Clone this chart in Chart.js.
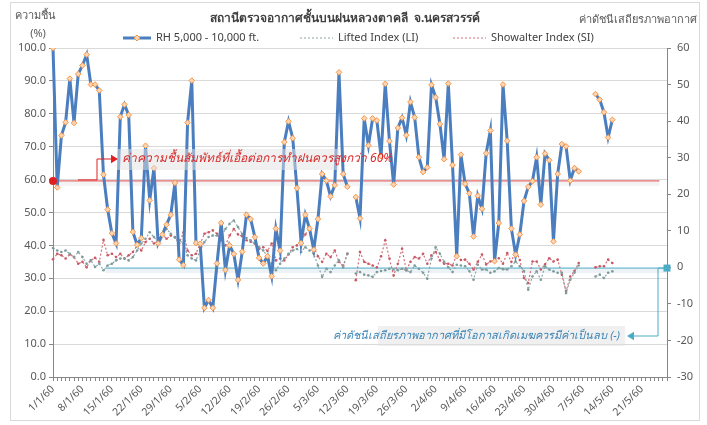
<!DOCTYPE html>
<html>
<head>
<meta charset="utf-8">
<script src="https://cdn.jsdelivr.net/npm/chart.js@4.4.1/dist/chart.umd.min.js"></script>
<style>
  body { margin: 0; background: #fff; }
  #wrap { width: 707px; height: 425px; position: relative; }
</style>
</head>
<body>
<div id="wrap"><canvas id="myChart"></canvas></div>
<script>
// daily categories 1/1/60 .. 27/5/60
const monthDays = [31, 28, 31, 30, 31];
const categories = [];
for (let m = 0; m < monthDays.length; m++) {
  for (let d = 1; d <= monthDays[m] && categories.length < 147; d++) {
    categories.push(d + '/' + (m + 1) + '/60');
  }
}

const tickLabels = ['1/1/60', '8/1/60', '15/1/60', '22/1/60', '29/1/60', '5/2/60', '12/2/60',
  '19/2/60', '26/2/60', '5/3/60', '12/3/60', '19/3/60', '26/3/60', '2/4/60', '9/4/60',
  '16/4/60', '23/4/60', '30/4/60', '7/5/60', '14/5/60', '21/5/60'];

// RH 5,000 - 10,000 ft. (%)
const rh = [100, 57.6, 73.4, 77.4, 90.7, 77.2, 92.1, 94.7, 98.0, 88.9,
  88.9, 87.1, 61.5, 50.9, 43.7, 40.6, 79.1, 82.8, 79.6, 44.1,
  40.2, 42.2, 70.3, 53.7, 63.5, 40.6, 43.3, 46.3, 49.3, 59.0,
  35.7, 34.0, 77.3, 90.1, 40.7, 40.5, 21.0, 23.4, 21.0, 34.5,
  46.8, 32.5, 40.0, 37.4, 29.5, 38.1, 49.3, 48.0, 42.5, 36.2,
  34.5, 36.7, 30.6, 45.1, 38.4, 71.4, 77.7, 72.6, 57.4, 40.7,
  49.3, 45.1, 38.7, 48.0, 61.7, 59.7, 54.9, 58.3, 92.6, 61.7,
  57.8, null, 54.7, 48.2, 78.6, 70.4, 78.6, 78.0, 67.1, 89.1,
  71.7, 58.5, 75.7, 78.8, 73.5, 83.6, 78.9, 66.8, 62.3, 63.7,
  88.8, 85.0, 76.9, 66.2, 89.2, 64.4, 36.7, 67.6, 58.7, 55.8,
  42.7, 55.1, 51.1, 68.0, 74.9, 35.2, 46.8, 88.9, 71.8, 45.1,
  37.2, 43.3, 53.5, 57.8, 59.5, 66.8, 52.4, 67.9, 65.9, 41.2,
  61.7, 70.8, 70.1, 59.7, 63.5, 62.5, null, null, null, 86.0,
  84.3, 80.5, 72.8, 78.2];

// Lifted Index (LI)
const li = [5.3, 4.6, 4.2, 4.6, 3.7, 2.8, 4.2, 2.8, 1.0, 1.9,
  0.1, 1.0, -0.8, 0.5, 1.0, 1.9, 2.4, 2.4, 1.9, 2.8,
  4.6, 6.5, 7.8, 9.6, 8.3, 6.9, 9.2, 10.5, 9.2, 8.1,
  7.4, 6.5, 3.3, 2.4, 1.9, 4.6, 6.9, 8.3, 8.7, 8.7,
  8.3, 10.5, 11.9, 12.8, 11.0, 9.1, 8.0, 7.4, 6.5, 5.5,
  4.6, 3.0, 1.0, -0.8, 1.0, 2.4, 3.7, 4.6, 5.0, 4.2,
  5.5, 4.6, 3.7, 0.5, -2.6, -0.4, -1.3, 0.5, 1.9, 0.0,
  3.7, null, -1.7, -1.3, -2.0, -2.2, -2.6, -1.3, -1.0, -0.8,
  -0.4, -0.6, -0.8, -0.4, -0.8, -1.3, 0.5, -0.4, -1.5, -3.1,
  2.4, 5.5, 3.7, 1.5, 0.0, -1.3, 0.7, 0.5, 0.3, -1.0,
  -3.4, 0.7, -0.6, -0.6, -1.5, -1.1, -0.2, -0.5, -0.6, 0.3,
  1.6, 0.3, -1.0, -6.1, -2.5, -1.1, -3.4, 0.3, -0.6, -1.1,
  -1.5, -1.5, -7.0, -3.4, -1.5, 0.5, null, null, null, -2.5,
  -2.0, -2.9, -1.5, -1.1];

// Showalter Index (SI)
const si = [2.2, 3.7, 3.3, 2.4, 3.5, 2.8, 1.0, 1.5, 0.0, 1.9,
  2.6, 1.5, 7.5, 3.3, 3.7, 2.8, 3.7, 2.4, 3.3, 4.2,
  6.0, 4.6, 6.9, 7.8, 6.5, 7.4, 9.2, 7.8, 8.7, 8.3,
  6.5, 9.5, 4.6, 3.3, 3.7, 6.5, 9.2, 9.6, 10.1, 9.2,
  7.4, 6.0, 8.7, 10.5, 9.0, 8.5, 7.4, 7.0, 6.5, 5.0,
  5.5, 4.5, 6.5, 1.9, 2.4, 1.9, 3.5, 5.5, 6.0, 7.4,
  9.0, 11.0, 5.5, 3.0, 1.5, 3.7, 2.8, 4.6, 1.5, 0.5,
  3.7, null, -3.5, 4.2, 1.5, 1.0, 0.5, 0.0, 3.0, 7.4,
  2.4, -2.2, 1.0, 5.1, -0.8, 1.5, 2.8, 2.4, 3.7, 1.0,
  3.3, 4.2, 1.9, 1.0, 1.0, 0.5, 3.5, 2.0, 2.1, 1.0,
  -0.6, 1.5, 3.5, 0.8, 1.6, 2.0, 2.5, 1.0, 3.9, 1.5,
  4.8, 2.0, -2.9, -4.3, 1.6, 1.6, -0.6, 0.8, 2.5, 1.6,
  2.1, -2.0, -6.5, -2.5, -1.0, 1.2, null, null, null, 0.0,
  0.3, 0.3, 2.1, 1.2];

const FONT = "'Noto Sans', 'DejaVu Sans', sans-serif";
const AXIS = '#868686';
const TXT = '#595959';

function arrowHead(ctx, x, y, dir, size) {
  ctx.beginPath();
  ctx.moveTo(x, y);
  ctx.lineTo(x - dir * size, y - size * 0.6);
  ctx.lineTo(x - dir * size, y + size * 0.6);
  ctx.closePath();
  ctx.fill();
}

const overlay = {
  id: 'overlay',
  beforeDraw(chart) {
    const ctx = chart.ctx;
    ctx.save();
    ctx.strokeStyle = '#d9d9d9';
    ctx.lineWidth = 1;
    ctx.strokeRect(10.5, 2.5, 689, 418);
    ctx.restore();
  },
  beforeDatasetsDraw(chart) {
    const { ctx, chartArea, scales } = chart;
    const x = scales.x, y = scales.y, y1 = scales.y1;
    ctx.save();
    // 60% threshold line with soft shadow
    const ry = y.getPixelForValue(59.6);
    const rEnd = x.getPixelForValue(144.2);
    ctx.fillStyle = 'rgba(200,200,200,0.22)';
    ctx.fillRect(chartArea.left, ry, rEnd - chartArea.left, 5);
    ctx.strokeStyle = '#e04848';
    ctx.lineWidth = 1;
    ctx.beginPath();
    ctx.moveTo(chartArea.left, ry);
    ctx.lineTo(rEnd, ry);
    ctx.stroke();
    // zero line of the stability index
    const cy = y1.getPixelForValue(-0.2);
    const cStart = x.getPixelForValue(12.4);
    ctx.fillStyle = 'rgba(180,205,220,0.25)';
    ctx.fillRect(cStart, cy, chartArea.right - cStart, 5);
    ctx.strokeStyle = '#4bacc6';
    ctx.beginPath();
    ctx.moveTo(cStart, cy);
    ctx.lineTo(chartArea.right, cy);
    ctx.stroke();
    ctx.restore();
  },
  afterDraw(chart) {
    const { ctx, chartArea, scales } = chart;
    const y = scales.y, y1 = scales.y1;
    ctx.save();

    // titles
    ctx.fillStyle = '#404040';
    ctx.textBaseline = 'middle';
    ctx.font = 'bold 12px ' + FONT;
    ctx.textAlign = 'center';
    ctx.fillText('สถานีตรวจอากาศชั้นบนฝนหลวงตาคลี  จ.นครสวรรค์', 345, 19);
    ctx.font = '11px ' + FONT;
    ctx.fillStyle = TXT;
    ctx.fillText('ความชื้น', 35, 16);
    ctx.fillText('(%)', 38, 34);
    ctx.textAlign = 'right';
    ctx.fillText('ค่าดัชนีเสถียรภาพอากาศ', 697, 20);

    // legend
    ctx.textAlign = 'left';
    ctx.fillStyle = '#404040';
    const ly = 38;
    ctx.strokeStyle = '#4a7ebf';
    ctx.lineWidth = 3;
    ctx.beginPath(); ctx.moveTo(123, ly); ctx.lineTo(151, ly); ctx.stroke();
    ctx.fillStyle = '#fcd5b4';
    ctx.strokeStyle = '#f79646';
    ctx.lineWidth = 1;
    ctx.beginPath();
    ctx.moveTo(137, ly - 3); ctx.lineTo(140, ly); ctx.lineTo(137, ly + 3); ctx.lineTo(134, ly);
    ctx.closePath(); ctx.fill(); ctx.stroke();
    ctx.fillStyle = '#404040';
    ctx.fillText('RH 5,000 - 10,000 ft.', 156, ly);

    ctx.setLineDash([2, 2]);
    ctx.lineWidth = 1.2;
    ctx.strokeStyle = '#8aa6a6';
    ctx.beginPath(); ctx.moveTo(300, ly); ctx.lineTo(333, ly); ctx.stroke();
    ctx.strokeStyle = '#d0707a';
    ctx.beginPath(); ctx.moveTo(453, ly); ctx.lineTo(486, ly); ctx.stroke();
    ctx.setLineDash([]);
    ctx.fillText('Lifted Index (LI)', 338, ly);
    ctx.fillText('Showalter Index (SI)', 491, ly);

    // red annotation
    const ry = y.getPixelForValue(59.6);
    ctx.fillStyle = '#e02020';
    ctx.beginPath(); ctx.arc(chartArea.left, ry, 4, 0, Math.PI * 2); ctx.fill();
    ctx.fillStyle = 'rgba(225,225,225,0.5)';
    ctx.fillRect(117, 149, 222, 21);
    ctx.strokeStyle = '#e02020';
    ctx.lineWidth = 1;
    ctx.beginPath();
    ctx.moveTo(78, ry - 1); ctx.lineTo(97, ry - 1); ctx.lineTo(97, 159); ctx.lineTo(112, 159);
    ctx.stroke();
    ctx.fillStyle = '#e02020';
    arrowHead(ctx, 118, 159, 1, 7);
    ctx.font = 'italic 12px ' + FONT;
    ctx.fillStyle = '#d82828';
    ctx.fillText('ค่าความชื้นสัมพัทธ์ที่เอื้อต่อการทำฝนควรสูงกว่า 60%', 122, 159);

    // blue annotation
    const cy = y1.getPixelForValue(-0.2);
    ctx.fillStyle = 'rgba(225,225,225,0.5)';
    ctx.fillRect(378, 326, 247, 20);
    ctx.strokeStyle = '#4bacc6';
    ctx.beginPath();
    ctx.moveTo(chartArea.right, cy); ctx.lineTo(658, cy); ctx.lineTo(658, 336); ctx.lineTo(633, 336);
    ctx.stroke();
    ctx.fillStyle = '#4bacc6';
    arrowHead(ctx, 627, 336, -1, 7);
    ctx.fillRect(chartArea.right - 3.5, cy - 3.5, 7, 7);
    ctx.font = 'italic 11px ' + FONT;
    ctx.fillStyle = '#3d86b8';
    ctx.textAlign = 'right';
    ctx.fillText('ค่าดัชนีเสถียรภาพอากาศที่มีโอกาสเกิดเมฆควรมีค่าเป็นลบ (-)', 620, 336);

    ctx.restore();
  }
};

const ctx = document.getElementById('myChart');

new Chart(ctx, {
  type: 'line',
  data: {
    labels: categories,
    datasets: [{
      label: 'RH 5,000 - 10,000 ft.',
      data: rh,
      yAxisID: 'y',
      borderColor: '#4a7ebf',
      borderWidth: 3,
      lineTension: 0,
      pointStyle: 'rectRot',
      pointRadius: 2.8,
      pointBackgroundColor: '#fcd5b4',
      pointBorderColor: '#f79646',
      pointBorderWidth: 1,
      spanGaps: false
    }, {
      label: 'Lifted Index (LI)',
      data: li,
      yAxisID: 'y1',
      borderColor: '#8aa6a6',
      borderWidth: 1.2,
      borderDash: [2, 2],
      lineTension: 0,
      pointRadius: 1.3,
      pointBackgroundColor: '#7f9c9c',
      pointBorderWidth: 0,
      spanGaps: false
    }, {
      label: 'Showalter Index (SI)',
      data: si,
      yAxisID: 'y1',
      borderColor: '#d0707a',
      borderWidth: 1.2,
      borderDash: [2, 2],
      lineTension: 0,
      pointRadius: 1.3,
      pointBackgroundColor: '#c85a64',
      pointBorderWidth: 0,
      spanGaps: false
    }]
  },
  options: {
    responsive: true,
    maintainAspectRatio: false,
    animation: false,
    layout: { padding: { top: 48, left: 0, right: 0, bottom: 0 } },
    scales: {
      x: {
        offset: false,
        grid: { drawOnChartArea: false, tickLength: 4, tickColor: AXIS },
        border: { color: AXIS },
        ticks: {
          autoSkip: false,
          minRotation: 45,
          maxRotation: 45,
          padding: 2,
          color: TXT,
          font: { family: FONT, size: 10.5 },
          callback: (v, i) => tickLabels.includes(categories[i]) ? categories[i] : ''
        },
        afterFit: (s) => { s.height = 48; }
      },
      y: {
        position: 'left',
        min: 0,
        max: 100,
        grid: { color: '#d9d9d9', tickLength: 4, tickColor: AXIS },
        border: { color: AXIS },
        ticks: {
          stepSize: 10,
          color: TXT,
          padding: 3,
          font: { family: FONT, size: 11 },
          callback: (v) => v.toFixed(1)
        },
        afterFit: (s) => { s.width = 53; }
      },
      y1: {
        position: 'right',
        min: -30,
        max: 60,
        grid: { drawOnChartArea: false, tickLength: 4, tickColor: AXIS },
        border: { color: AXIS },
        ticks: {
          stepSize: 10,
          color: TXT,
          padding: 6,
          font: { family: FONT, size: 11 }
        },
        afterFit: (s) => { s.width = 40; }
      }
    },
    plugins: {
      legend: { display: false },
      title: { display: false },
      tooltip: { enabled: false }
    }
  },
  plugins: [overlay]
});
</script>
</body>
</html>
